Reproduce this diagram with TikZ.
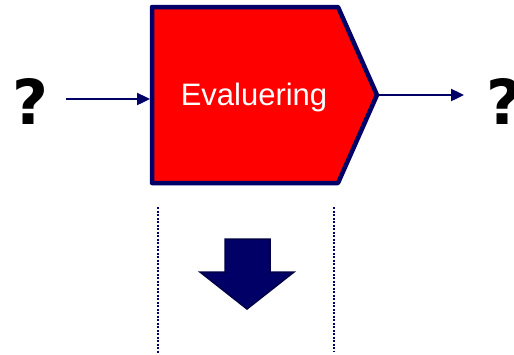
\documentclass[tikz,border=0pt]{standalone}
\usepackage{fontspec}
\setmainfont{Liberation Sans}
\newfontfamily\qfont{DejaVu Sans}
\usetikzlibrary{arrows.meta}
\definecolor{navy}{RGB}{0,0,102}
\definecolor{darknavy}{RGB}{0,0,70}
\tikzset{
  flow/.style={draw=navy, line width=2.4pt, -{Triangle[length=13pt,width=12pt]}},
  evalbox/.style={draw=navy, fill=red, line width=4.5pt, line join=round},
  guide/.style={draw=navy, line width=2pt, dash pattern=on 2pt off 1.5pt},
  qmark/.style={font=\qfont\bfseries\fontsize{62}{62}\selectfont, inner sep=0pt},
}

\begin{document}
\begin{tikzpicture}[x=1pt,y=-1pt]
			%%%%% START %%%%%
			\useasboundingbox (0, 0) rectangle (514, 354);
			
			% process box
			\draw[evalbox] (152, 7) -- (338, 7) -- (377, 95) -- (338, 183) -- (152, 183) -- cycle;
			\node[text=white, font=\fontsize{31}{31}\selectfont] (eval) at (254, 97) {Evaluering};
			\coordinate (evin) at (150, 99);
			\coordinate (evout) at (377, 95);
			
			% inputs and outputs
			\node[qmark] (qin) at (30, 101) {?};
			\node[qmark, anchor=west] (qout) at (486, 101) {?};
			\coordinate (inend) at (66, 99);
			\coordinate (outend) at (464, 95);
			\draw[flow] (inend) -- (evin);
			\draw[flow] (evout) -- (outend);
			
			% guides
			\coordinate (gla) at (158, 207);
			\coordinate (glb) at (158, 354);
			\coordinate (gra) at (334, 207);
			\coordinate (grb) at (334, 352);
			\draw[guide] (gla) -- (glb);
			\draw[guide] (gra) -- (grb);
			
			% down arrow
			\draw[fill=navy, draw=darknavy, line width=1.5pt, line join=miter]
				(225, 239) -- (270, 239) -- (270, 272) -- (294, 272) -- (247, 309) -- (200, 272) -- (225, 272) -- cycle;
			%%%%% END %%%%%
\end{tikzpicture}
\end{document}
